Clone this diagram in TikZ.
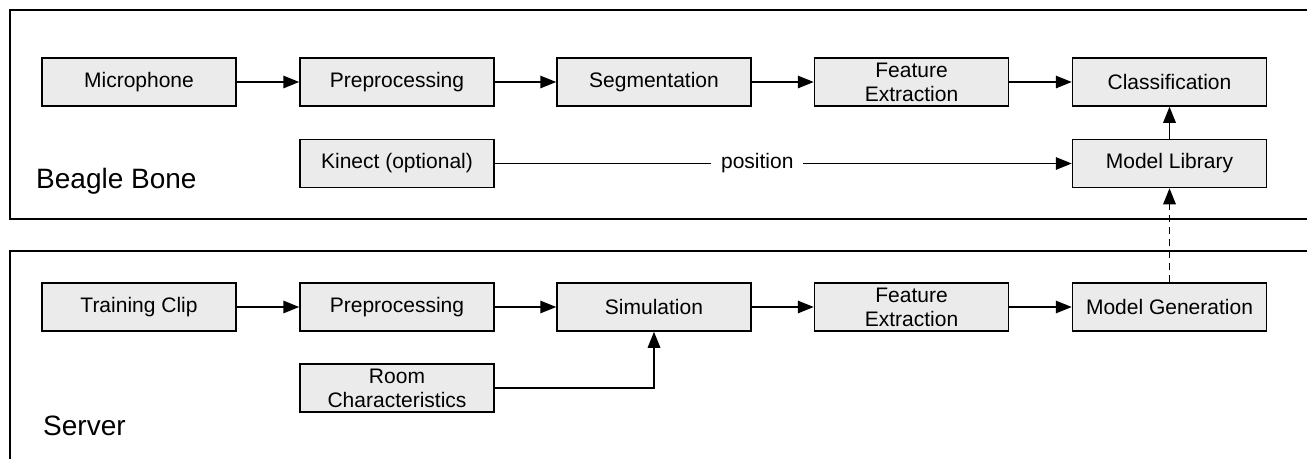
\documentclass[tikz,border=0pt]{standalone}
\usepackage{fontspec}
\setmainfont{Liberation Sans}
\usetikzlibrary{arrows.meta}
\definecolor{boxgray}{RGB}{235,235,235}
\tikzset{
  blk/.style={draw=black, fill=boxgray, line width=1.5pt, minimum width=194pt, minimum height=48pt,
    inner sep=2pt, align=center, font=\fontsize{21}{24}\selectfont},
  frame/.style={draw=black, line width=2pt},
  arr/.style={line width=1.5pt, -{Triangle[length=16pt,width=12.5pt]}},
  biglabel/.style={anchor=west, inner sep=0pt, font=\fontsize{28}{32}\selectfont}
}
\begin{document}
\begin{tikzpicture}[x=1pt,y=-1pt]
\useasboundingbox (0,0) rectangle (1307,458);
\clip (0,0) rectangle (1307,458);
\draw[frame] (10,9.5) rectangle (1330,218.5);
\draw[frame] (10,251) rectangle (1330,480);
% top row
\node[blk] (mic) at (139,82) {Microphone};
\node[blk] (pre) at (397,82) {Preprocessing};
\node[blk] (seg) at (654,82) {Segmentation};
\node[blk] (fe) at (911.5,82) {Feature\\Extraction};
\node[blk] (cls) at (1169.5,82) {Classification};
\node[blk] (kin) at (397,163.5) {Kinect (optional)};
\node[blk] (lib) at (1169.5,163.5) {Model Library};
\node[biglabel] (bb) at (36,181) {Beagle Bone};
% bottom row
\node[blk] (tc) at (139,307) {Training Clip};
\node[blk] (pre2) at (397,307) {Preprocessing};
\node[blk] (sim) at (654,307) {Simulation};
\node[blk] (fe2) at (911.5,307) {Feature\\Extraction};
\node[blk] (mg) at (1169.5,307) {Model Generation};
\node[blk] (room) at (397,388) {Room\\Characteristics};
\node[biglabel] (srv) at (43,426) {Server};
% connectors
\draw[arr] (mic) -- (pre);
\draw[arr] (pre) -- (seg);
\draw[arr] (seg) -- (fe);
\draw[arr] (fe) -- (cls);
\draw[arr] (lib) -- (cls);
\draw[arr] (kin) -- node[pos=0.455, fill=white, inner xsep=10pt, inner ysep=2pt, font=\fontsize{21}{24}\selectfont] {position} (lib);
\draw[arr] (tc) -- (pre2);
\draw[arr] (pre2) -- (sim);
\draw[arr] (sim) -- (fe2);
\draw[arr] (fe2) -- (mg);
\draw[arr] (room.east) -| (sim.south);
\draw[arr, dash pattern=on 7pt off 5pt] (mg.north) -- (lib.south);
\end{tikzpicture}
\end{document}
